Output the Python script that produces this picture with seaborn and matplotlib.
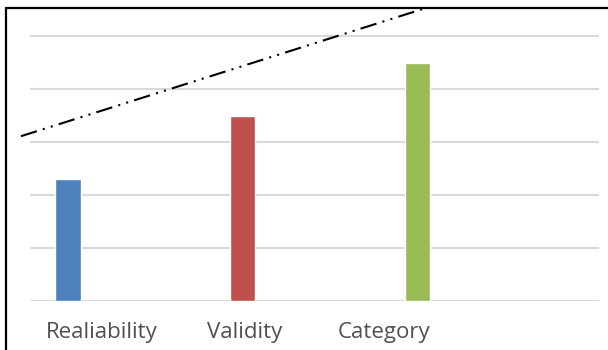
import numpy as np
import pandas as pd
import seaborn as sns
import matplotlib.pyplot as plt
from matplotlib.lines import Line2D

# Data
categories = ['Realiability', 'Validity', 'Category']
values = [2.3, 3.5, 4.5]
bar_colors = ['#4F81BD', '#C0504D', '#9BBB59']

# dash-dot-dot trend line (two end points)
trend_x = [-0.27, 2.03]
trend_y = [3.11, 5.51]

# labels sit a little off-centre under the bars in the original
label_shift = [0.19, 0.01, -0.19]

sns.set_theme(style='white')
plt.rcParams['font.family'] = ['Open Sans', 'DejaVu Sans']

df = pd.DataFrame({'cat': categories, 'val': values})

fig = plt.figure(figsize=(6.08, 3.5), dpi=100)
ax = fig.add_axes([30 / 608, 1 - 301 / 350, (599 - 30) / 608, (301 - 8) / 350])

sns.barplot(data=df, x='cat', y='val', hue='cat', palette=bar_colors,
            saturation=1, width=0.145, legend=False, ax=ax, zorder=3)

ax.plot(trend_x, trend_y, color='black', lw=1.5,
        linestyle=(0, (8, 3, 1, 3, 1, 3)), clip_on=False, zorder=4)

ax.set_xlim(-0.218, 3.04)
ax.set_ylim(0, 5.53)
ax.set_yticks(range(0, 6))
ax.yaxis.grid(True, color='#D9D9D9', lw=1.5)
ax.set_yticklabels([])
ax.tick_params(axis='y', length=0)
for s in ax.spines.values():
    s.set_visible(False)

ax.set_xticks(np.arange(len(categories)) + np.array(label_shift))
ax.set_xticklabels(categories, fontsize=16, color='#505050')
ax.tick_params(axis='x', length=0, pad=15)
ax.set_xlabel('')
ax.set_ylabel('')

# black frame of the pasted chart (left and top edges visible)
fig.add_artist(Line2D([6 / 608, 6 / 608], [0, 1 - 8 / 350], color='black', lw=1.6))
fig.add_artist(Line2D([6 / 608, 1], [1 - 8 / 350, 1 - 8 / 350], color='black', lw=1.6))

fig.savefig('out.png', dpi=100)
